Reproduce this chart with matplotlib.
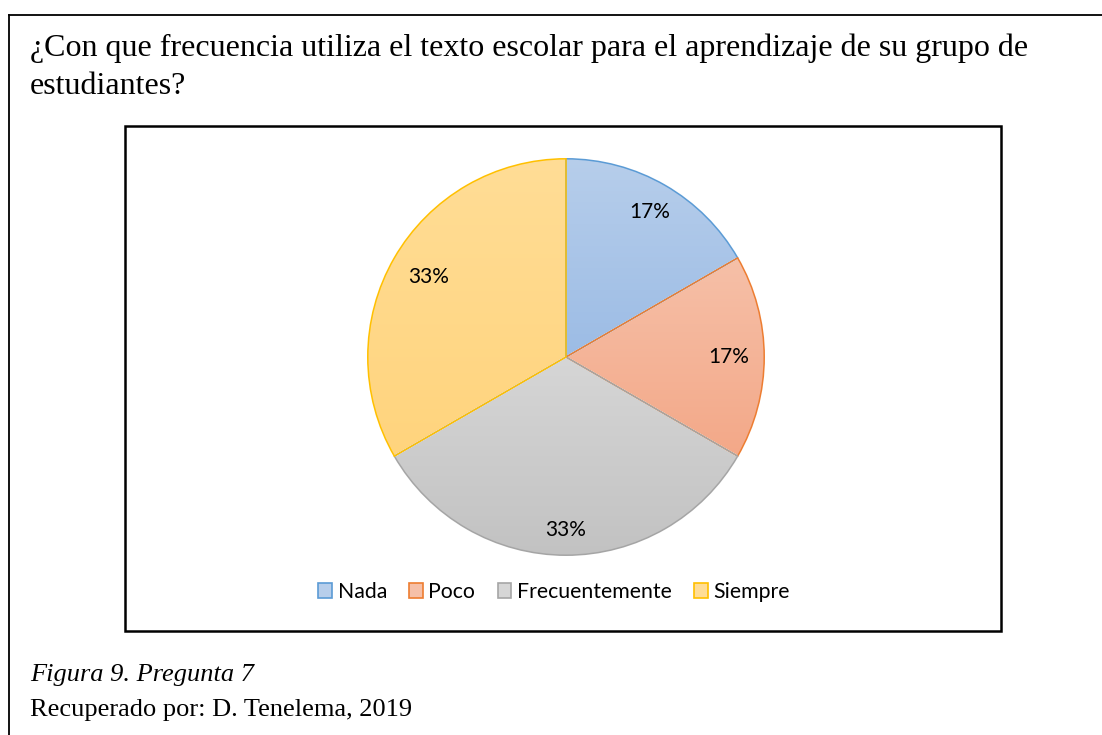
import numpy as np
import matplotlib.pyplot as plt
from matplotlib.patches import Rectangle, Wedge
from matplotlib.lines import Line2D
from matplotlib.colors import to_rgb

# data
categories = ["Nada", "Poco", "Frecuentemente", "Siempre"]
values = [1, 1, 2, 2]
pct_labels = ["17%", "17%", "33%", "33%"]

title_lines = ["¿Con que frecuencia utiliza el texto escolar para el aprendizaje de su grupo de",
               "estudiantes?"]
caption1 = "Figura 9. Pregunta 7"
caption2 = "Recuperado por: D. Tenelema, 2019"

# styles
fill_top = ["#B7CEEB", "#F6C0A8", "#D6D6D6", "#FFDD96"]
fill_bot = ["#9CBCE5", "#F3A888", "#C2C2C2", "#FFD47D"]
edges = ["#5B9BD5", "#ED7D31", "#A5A5A5", "#FFC000"]
label_r = [0.84, 0.82, 0.87, 0.80]

W, H = 1102, 735
fig = plt.figure(figsize=(W / 100, H / 100), dpi=100)


def fx(px):
    return px / W


def fy(py):
    return 1 - py / H


# outer frame (top and left lines only)
fig.add_artist(Line2D([fx(9), fx(W)], [fy(15), fy(15)], color="black", lw=1.3))
fig.add_artist(Line2D([fx(9), fx(9)], [fy(15), fy(H)], color="black", lw=1.3))

# inner chart box
fig.add_artist(Rectangle((fx(125), fy(631)), fx(1001) - fx(125), fy(126) - fy(631),
                         fill=False, edgecolor="black", lw=1.8))

serif = "Liberation Serif"
for line, base in zip(title_lines, [56, 94]):
    fig.text(fx(30), fy(base), line, fontsize=23.05, family=serif, va="baseline", ha="left")
fig.text(fx(30), fy(681), caption1, fontsize=19, family=serif, style="italic",
         va="baseline", ha="left")
fig.text(fx(30), fy(716), caption2, fontsize=19, family=serif, va="baseline", ha="left")

# pie axes: center (566, 357), radius 200 px
cx, cy, r = 566, 357, 200
ax = fig.add_axes([fx(cx - r), fy(cy + r), 2 * r / W, 2 * r / H])
wedges, _ = ax.pie(values, startangle=90, counterclock=False,
                   colors=fill_top, wedgeprops=dict(edgecolor="white", linewidth=1.2))
ax.set_aspect("equal")
ax.axis("off")

# vertical gradient fill per slice, clipped to the wedge
for w, top, bot, ec in zip(wedges, fill_top, fill_bot, edges):
    t = np.linspace(0, 1, 256)[:, None]
    c1, c2 = np.array(to_rgb(top)), np.array(to_rgb(bot))
    grad = (c1 * (1 - t) + c2 * t)[:, None, :].repeat(2, axis=1)
    ext = w.get_path().get_extents()
    img = ax.imshow(grad, extent=[ext.x0, ext.x1, ext.y0, ext.y1], origin="upper",
                    aspect="auto", zorder=1)
    img.set_clip_path(w)
    w.set_facecolor("none")
    w.set_zorder(2)
    # coloured outline just inside the white separator
    ax.add_patch(Wedge(w.center, w.r - 0.004, w.theta1, w.theta2,
                       fill=False, edgecolor=ec, lw=1.1, zorder=3))
    ax.add_patch(Wedge(w.center, w.r, w.theta1, w.theta2,
                       fill=False, edgecolor="white", lw=1.0, zorder=2.5))

# percentage labels
for w, lab, d in zip(wedges, pct_labels, label_r):
    ang = np.deg2rad((w.theta1 + w.theta2) / 2)
    ax.text(d * np.cos(ang), d * np.sin(ang), lab, ha="center", va="center",
            fontsize=15, family="Lato", zorder=5)

ax.set_xlim(-1.005, 1.005)
ax.set_ylim(-1.005, 1.005)

# legend
handles = [Rectangle((0, 0), 1, 1, facecolor=fill_top[i], edgecolor=edges[i], lw=1.2)
           for i in range(len(categories))]
fig.legend(handles, categories, loc="center", bbox_to_anchor=(fx(554), fy(592)),
           ncol=4, frameon=False, prop=dict(family="Lato", size=15.3),
           handlelength=0.65, handleheight=0.65, handletextpad=0.25, columnspacing=1.05)

fig.savefig("out.png", dpi=100)
